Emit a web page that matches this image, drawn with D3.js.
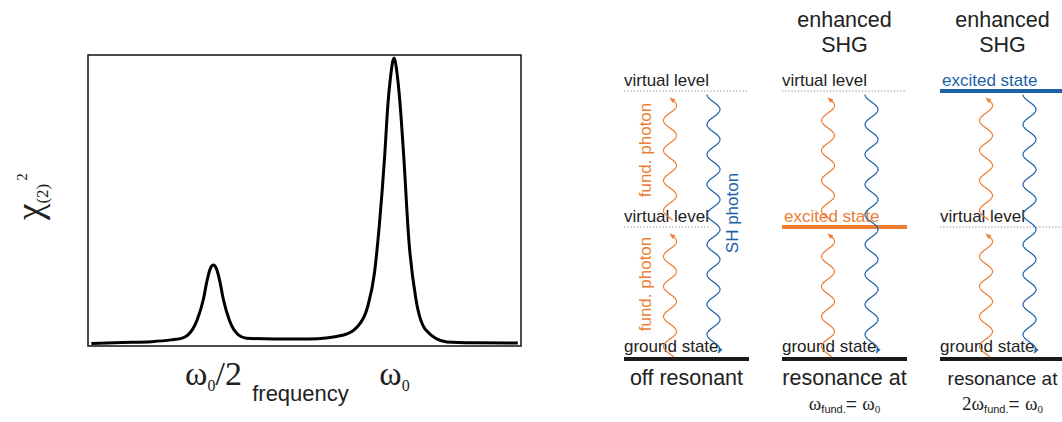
<!DOCTYPE html>
<html>
<head>
<meta charset="utf-8">
<script src="https://cdn.jsdelivr.net/npm/d3@7"></script>
<style>
  body { margin: 0; background: #fff; }
  svg { display: block; }
  text { font-family: "Liberation Sans", Arial, sans-serif; fill: #222; }
  .serif { font-family: "Liberation Serif", "Times New Roman", serif; }
</style>
</head>
<body>
<svg id="chart" width="1062" height="422"></svg>
<script>
// |chi(2)|^2 spectrum, frequency in units of omega0
const frequency = [0.164, 0.25, 0.33, 0.384, 0.417, 0.431, 0.456, 0.473, 0.484, 0.492, 0.501, 0.510,
  0.518, 0.529, 0.545, 0.570, 0.592, 0.670, 0.765, 0.861, 0.898, 0.927, 0.946, 0.960, 0.974, 0.983,
  0.990, 1.0, 1.010, 1.017, 1.027, 1.041, 1.061, 1.088, 1.146, 1.22, 1.342];
const chi2 = [0.009, 0.012, 0.015, 0.021, 0.028, 0.038, 0.089, 0.158, 0.227, 0.264, 0.278, 0.264,
  0.227, 0.158, 0.089, 0.038, 0.027, 0.024, 0.024, 0.038, 0.065, 0.134, 0.251, 0.423, 0.649, 0.828,
  0.92, 0.99, 0.92, 0.828, 0.649, 0.364, 0.158, 0.055, 0.014, 0.011, 0.010];
const freqTicks = [0.5, 1];
const freqTickLabels = [['ω', '0', '/2'], ['ω', '0', '']];
const freqDomain = [0.1547, 1.3508];

// energy level diagrams
const panelNames = ['off', 'fund', 'sh'];
const panelTitles = [[], ['enhanced', 'SHG'], ['enhanced', 'SHG']];
const panelCaptions = ['off resonant', 'resonance at', 'resonance at'];
const panelFormulas = [null, ['', 'ω', 'fund.', '= ', 'ω', '0'], ['2', 'ω', 'fund.', '= ', 'ω', '0']];
const levelEnergies = [0, 1, 2];
const levelLabels = [
  ['ground state', 'virtual level', 'virtual level'],
  ['ground state', 'excited state', 'virtual level'],
  ['ground state', 'virtual level', 'excited state']
];
const levelKinds = [
  ['ground', 'virtual', 'virtual'],
  ['ground', 'fund', 'virtual'],
  ['ground', 'virtual', 'sh']
];
const fundPhotons = [[0, 1], [1, 2]];
const shPhoton = [2, 0];
const photonLabels = ['fund. photon', 'SH photon'];

const orange = '#ed7d31';
const blue = '#1d62a8';

const svg = d3.select('#chart');

/* ---------- spectrum ---------- */
const specMargin = {top: 55, left: 88};
const specWidth = 433;
const specHeight = 291;

const spec = svg.append('g')
  .attr('transform', `translate(${specMargin.left}, ${specMargin.top})`);

const xScale = d3.scaleLinear().domain(freqDomain).range([0, specWidth]);
const yScale = d3.scaleLinear().domain([0, 1]).range([specHeight, 0]);

spec.append('rect')
  .attr('width', specWidth)
  .attr('height', specHeight)
  .attr('fill', 'none')
  .attr('stroke', '#111')
  .attr('stroke-width', 1.5);

const line = d3.line()
  .x((d, i) => xScale(frequency[i]))
  .y((d, i) => yScale(chi2[i]))
  .curve(d3.curveMonotoneX);

spec.append('path')
  .datum(chi2)
  .attr('d', line)
  .attr('fill', 'none')
  .attr('stroke', '#000')
  .attr('stroke-width', 3)
  .attr('stroke-linejoin', 'round');

const xAxis = spec.append('g')
  .attr('class', 'axis axis-x')
  .attr('transform', `translate(0, ${specHeight})`)
  .call(d3.axisBottom(xScale).tickValues(freqTicks).tickSize(0).tickFormat(''));
xAxis.select('.domain').remove();

xAxis.selectAll('.tick').each(function (d, i) {
  const parts = freqTickLabels[i];
  const t = d3.select(this).append('text')
    .attr('class', 'serif')
    .attr('y', 39)
    .attr('text-anchor', 'middle')
    .style('font-size', '34px')
    .style('fill', '#222');
  t.append('tspan').text(parts[0]);
  t.append('tspan').attr('dy', 6).style('font-size', '16px').text(parts[1]);
  if (parts[2]) t.append('tspan').attr('dy', -6).text(parts[2]);
});

spec.append('text')
  .attr('x', specWidth / 2 - 4)
  .attr('y', specHeight + 55)
  .attr('text-anchor', 'middle')
  .style('font-size', '22px')
  .text('frequency');

const yLabel = svg.append('text')
  .attr('class', 'serif')
  .attr('transform', 'translate(42, 220) rotate(-90)')
  .style('font-size', '37px')
  .style('fill', '#222');
yLabel.append('tspan').text('χ');
yLabel.append('tspan').attr('dy', 6).style('font-size', '17px').text('(2)');
yLabel.append('tspan').attr('dy', -21).attr('dx', 3).style('font-size', '15px').text('2');

/* ---------- energy diagrams ---------- */
const panelX = d3.scaleBand().domain(panelNames).range([624, 1065]).paddingInner(0.209);
const levelY = d3.scaleLinear().domain(levelEnergies).range([359, 227, 91]);
const bw = panelX.bandwidth();

const waveAmp = 6.5;
const wavePeriod = 30;
const fundOffset = 46;
const shOffset = 89.5;

const kindStyle = {
  ground: {stroke: '#1a1a1a', width: 4, text: '#222', dash: null},
  virtual: {stroke: '#8a8a8a', width: 1.2, text: '#222', dash: '1.2,2'},
  fund: {stroke: orange, width: 4, text: orange, dash: null},
  sh: {stroke: blue, width: 4, text: blue, dash: null}
};

const waveLine = d3.line().x(d => d[0]).y(d => d[1]);

// wavy photon, arrow head at yTo
function drawPhoton(g, cx, yFrom, yTo, color, cosPhase) {
  const pts = [];
  const dir = yTo < yFrom ? -1 : 1;
  const top = Math.min(yFrom, yTo), bot = Math.max(yFrom, yTo);
  for (let yy = top; yy <= bot + 0.01; yy += 0.5) {
    const s = yy - top;
    const xx = cosPhase
      ? cx - waveAmp * Math.cos(2 * Math.PI * s / wavePeriod)
      : cx + waveAmp * Math.sin(2 * Math.PI * s / wavePeriod);
    pts.push([xx, yy]);
  }
  g.append('path')
    .attr('d', waveLine(pts))
    .attr('fill', 'none')
    .attr('stroke', color)
    .attr('stroke-width', 1.2);
  const tip = dir < 0 ? pts[0] : pts[pts.length - 1];
  const back = dir < 0 ? pts[6] : pts[pts.length - 7];
  const dx = tip[0] - back[0], dy = tip[1] - back[1];
  const len = Math.hypot(dx, dy);
  const ux = dx / len, uy = dy / len;
  const L = 5, W = 2.3;
  const bx = tip[0] - ux * L, by = tip[1] - uy * L;
  g.append('path')
    .attr('d', `M${tip[0]},${tip[1]}L${bx - uy * W},${by + ux * W}L${bx + uy * W},${by - ux * W}Z`)
    .attr('fill', color);
}

panelNames.forEach((name, p) => {
  const g = svg.append('g')
    .attr('class', 'panel')
    .attr('transform', `translate(${panelX(name)}, 0)`);

  panelTitles[p].forEach((t, i) => {
    g.append('text')
      .attr('x', bw / 2)
      .attr('y', 27 + i * 25)
      .attr('text-anchor', 'middle')
      .style('font-size', '21.5px')
      .text(t);
  });

  levelEnergies.forEach((e, i) => {
    const kind = levelKinds[p][i];
    const st = kindStyle[kind];
    const yy = levelY(e);
    const xEnd = (name === 'off' && e === 1) ? shOffset - 5 : bw;
    g.append('line')
      .attr('x1', 0).attr('x2', xEnd)
      .attr('y1', yy).attr('y2', yy)
      .attr('stroke', st.stroke)
      .attr('stroke-width', st.width)
      .attr('stroke-dasharray', st.dash);
    g.append('text')
      .attr('x', (kind === 'fund' || kind === 'sh') ? 2 : 0)
      .attr('y', yy - (kind === 'ground' ? 7 : 5))
      .style('font-size', '17px')
      .style('fill', st.text)
      .text(levelLabels[p][i]);
  });

  fundPhotons.forEach(([a, b]) => {
    const yStart = levelY(a) - (a === 0 ? 2 : 7);
    const yTip = levelY(b) + 7;
    drawPhoton(g, fundOffset, yStart, yTip, orange, false);
  });
  drawPhoton(g, shOffset, levelY(shPhoton[0]) + 3.5, levelY(shPhoton[1]) - 6, blue, true);

  if (name === 'off') {
    fundPhotons.forEach(([a, b]) => {
      const mid = (levelY(a) + levelY(b)) / 2 - 9;
      g.append('text')
        .attr('transform', `translate(27, ${mid}) rotate(-90)`)
        .attr('text-anchor', 'middle')
        .style('font-size', '17px')
        .style('fill', orange)
        .text(photonLabels[0]);
    });
    const midSH = (levelY(shPhoton[0]) + levelY(shPhoton[1])) / 2 - 12;
    g.append('text')
      .attr('transform', `translate(114, ${midSH}) rotate(-90)`)
      .attr('text-anchor', 'middle')
      .style('font-size', '17px')
      .style('fill', blue)
      .text(photonLabels[1]);
  }

  g.append('text')
    .attr('x', bw / 2)
    .attr('y', 385)
    .attr('text-anchor', 'middle')
    .style('font-size', p === 2 ? '19px' : '21.5px')
    .text(panelCaptions[p]);

  const f = panelFormulas[p];
  if (f) {
    const t = g.append('text')
      .attr('x', bw / 2)
      .attr('y', 410)
      .attr('text-anchor', 'middle')
      .style('font-size', '19px');
    if (f[0]) t.append('tspan').attr('class', 'serif').text(f[0]);
    t.append('tspan').attr('class', 'serif').text(f[1]);
    t.append('tspan').attr('dy', 3).style('font-size', '11px').text(f[2]);
    t.append('tspan').attr('dy', -3).text(f[3]);
    t.append('tspan').attr('class', 'serif').text(f[4]);
    t.append('tspan').attr('class', 'serif').attr('dy', 3).style('font-size', '11px').text(f[5]);
  }
});
</script>
</body>
</html>
